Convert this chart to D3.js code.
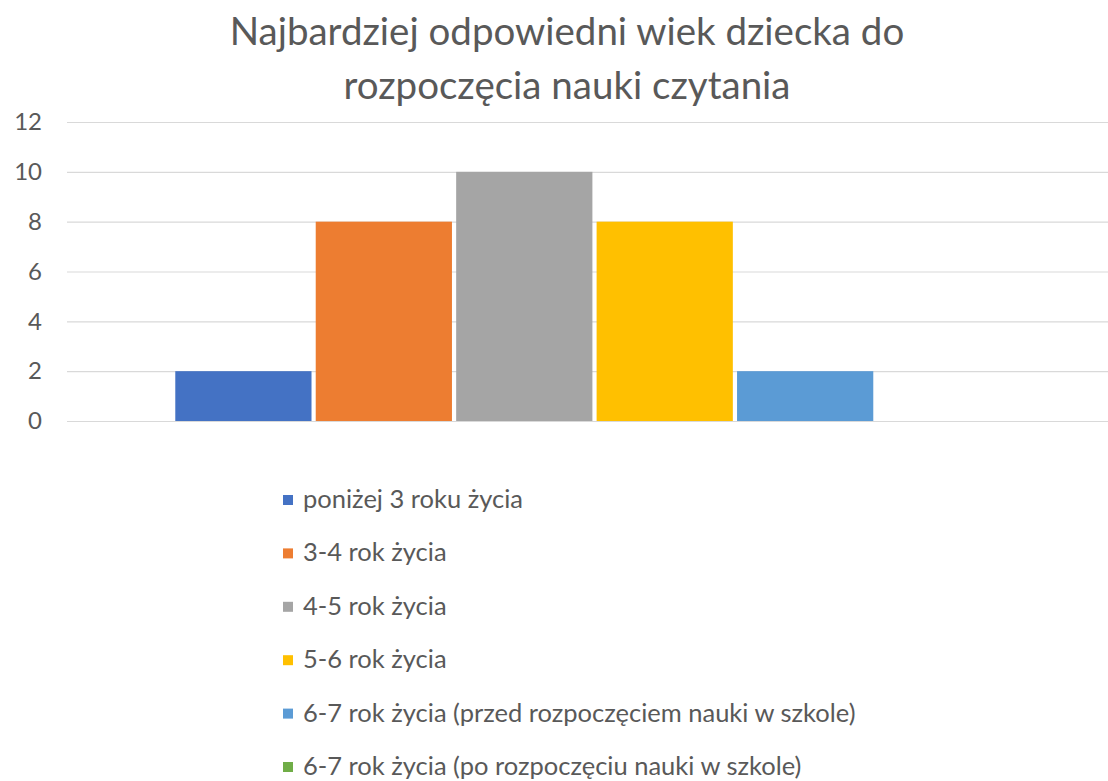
<!DOCTYPE html>
<html>
<head>
<meta charset="utf-8">
<title>wiek czytania</title>
<script src="https://d3js.org/d3.v7.min.js"></script>
<style>
    body{
        margin:0;
        background:#fff;
        font-family:Lato, "Open Sans", sans-serif;
    }
</style>
</head>
<body>
<div id="chart"></div>
<script type="text/javascript">
    // dane
    var titleLines = ["Najbardziej odpowiedni wiek dziecka do", "rozpoczęcia nauki czytania"]
    var seriesNames = ["poniżej 3 roku życia", "3-4 rok życia", "4-5 rok życia", "5-6 rok życia",
        "6-7 rok życia (przed rozpoczęciem nauki w szkole)", "6-7 rok życia (po rozpoczęciu nauki w szkole)"]
    var seriesValues = [2, 8, 10, 8, 2, 0]
    var seriesColors = ["#4472C4", "#ED7D31", "#A5A5A5", "#FFC000", "#5B9BD5", "#70AD47"]
    var yTicks = [0, 2, 4, 6, 8, 10, 12]
    var category = ["wiek"]

    var w = 1108
    var h = 781
    var plotLeft = 67, plotRight = 1122, plotTop = 122, plotBottom = 421

    var svg = d3.select("#chart").append("svg")
        .attr("width", w)
        .attr("height", h)

    svg.selectAll(".title")
        .data(titleLines)
        .enter()
        .append("text")
        .attr("class", "title")
        .attr("x", 567)
        .attr("y", function(d, i){ return 45 + i * 54 })
        .attr("text-anchor", "middle")
        .attr("font-size", 38.5)
        .attr("fill", "#595959")
        .text(function(d){ return d })

    var yScale = d3.scaleLinear().domain([0, 12]).range([plotBottom, plotTop])
    var xOuter = d3.scaleBand().domain(category).range([plotLeft, plotRight]).paddingOuter(0.126)
    var xInner = d3.scaleBand().domain(seriesNames).range([0, xOuter.bandwidth()]).paddingInner(0.03).paddingOuter(0.015)

    var yAxis = d3.axisLeft(yScale)
        .tickValues(yTicks)
        .tickSize(-(plotRight - plotLeft))
        .tickPadding(25)

    var gy = svg.append("g")
        .attr("class", "y axis")
        .attr("transform", "translate(" + plotLeft + ",0)")
        .call(yAxis)
    gy.select(".domain").remove()
    gy.selectAll("line").attr("stroke", "#d9d9d9").attr("stroke-width", 1.2)
    gy.selectAll("text")
        .attr("fill", "#595959")
        .attr("font-size", 24)
        .attr("font-family", "Lato, sans-serif")

    var g = svg.append("g")
        .attr("transform", "translate(" + xOuter(category[0]) + ",0)")

    g.selectAll("rect")
        .data(seriesValues)
        .enter()
        .append("rect")
        .attr("x", function(d, i){ return xInner(seriesNames[i]) })
        .attr("width", xInner.bandwidth())
        .attr("y", function(d){ return yScale(d) })
        .attr("height", function(d){ return yScale(0) - yScale(d) })
        .attr("fill", function(d, i){ return seriesColors[i] })

    var legend = svg.selectAll(".legend")
        .data(seriesNames)
        .enter()
        .append("g")
        .attr("class", "legend")
        .attr("transform", function(d, i){ return "translate(283," + (500 + i * 53.4) + ")" })

    legend.append("rect")
        .attr("x", 0)
        .attr("y", -5)
        .attr("width", 10)
        .attr("height", 10)
        .attr("fill", function(d, i){ return seriesColors[i] })

    legend.append("text")
        .attr("x", 20)
        .attr("y", 8)
        .attr("font-size", 25.5)
        .attr("fill", "#595959")
        .text(function(d){ return d })
</script>
</body>
</html>
